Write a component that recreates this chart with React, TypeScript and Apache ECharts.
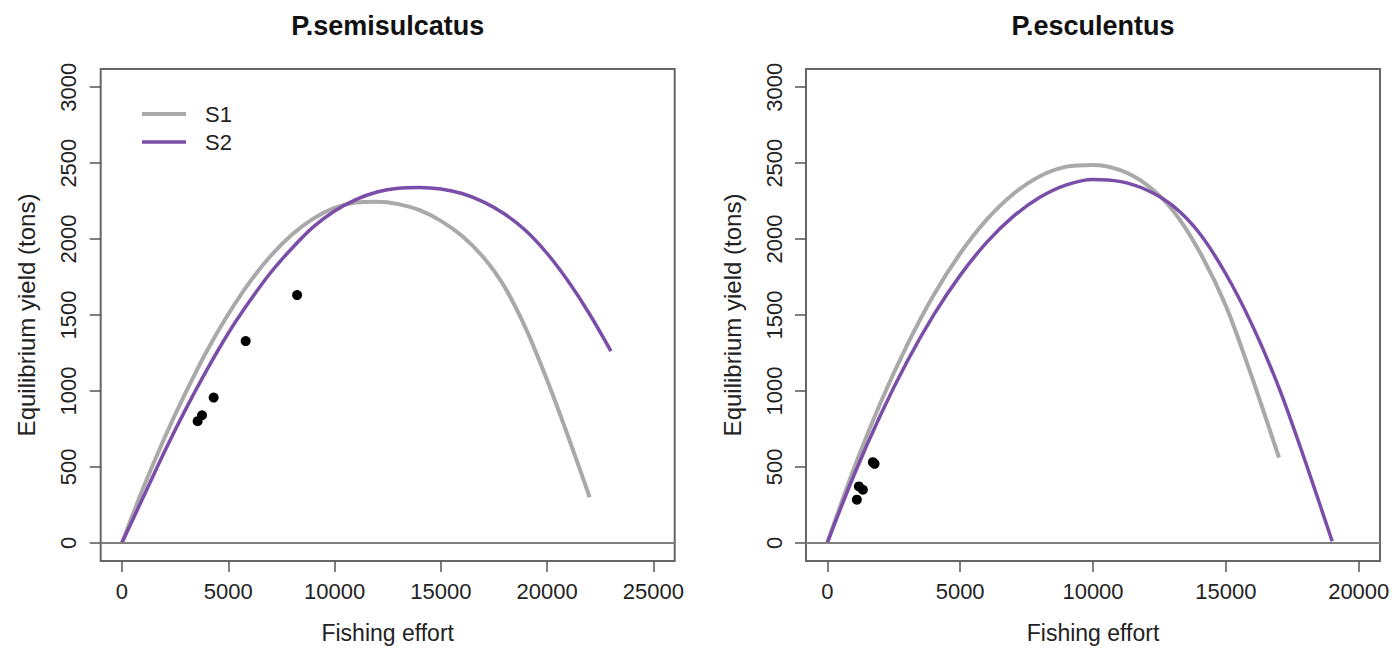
import React, { useEffect, useRef } from "react";
import * as echarts from "echarts";

// ---- data ----
const leftEffort = [0, 1000, 2000, 3000, 4000, 5000, 6000, 7000, 8000, 9000, 10000, 11000, 12000, 13000, 14000, 15000, 16000, 17000, 18000, 19000, 20000, 21000, 22000, 23000];
const leftS1 = [0, 360, 690, 990, 1265, 1505, 1715, 1890, 2030, 2135, 2205, 2240, 2245, 2230, 2190, 2120, 2020, 1880, 1685, 1410, 1070, 695, 300];
const leftS2 = [0, 300, 600, 880, 1140, 1380, 1590, 1780, 1940, 2080, 2185, 2260, 2310, 2335, 2340, 2330, 2300, 2245, 2165, 2055, 1905, 1720, 1505, 1262];
const rightEffort = [0, 1000, 2000, 3000, 4000, 5000, 6000, 7000, 8000, 9000, 10000, 11000, 12000, 13000, 14000, 15000, 16000, 17000, 18000, 19000];
const rightS1 = [0, 487, 921, 1300, 1630, 1905, 2128, 2297, 2414, 2477, 2488, 2455, 2360, 2190, 1920, 1560, 1080, 560];
const rightS2 = [0, 443, 840, 1192, 1499, 1761, 1978, 2149, 2275, 2357, 2393, 2380, 2325, 2220, 2040, 1770, 1430, 1020, 530, 10];
const leftObsEffort = [3560, 3766, 4313, 5819, 8239];
const leftObsYield = [801, 840, 956, 1328, 1631];
const rightObsEffort = [1114, 1190, 1340, 1716, 1780];
const rightObsYield = [284, 371, 349, 531, 520];
const yTicks = [0, 500, 1000, 1500, 2000, 2500, 3000];
const leftXTicks = [0, 5000, 10000, 15000, 20000, 25000];
const rightXTicks = [0, 5000, 10000, 15000, 20000];
const panelTitles = ["P.semisulcatus", "P.esculentus"];
const seriesNames = ["S1", "S2"];
const xName = "Fishing effort";
const yName = "Equilibrium yield (tons)";

const FONT = "'Liberation Sans', Arial, Helvetica, sans-serif";
const GRAY = "#a9a9a9";
const PURPLE = "#7a4ea8";

const zip = (xs: number[], ys: number[]) => ys.map((y, i) => [xs[i], y]);

export default function App() {
  const ref = useRef<HTMLDivElement>(null);
  useEffect(() => {
    if (!ref.current) return;
    const chart = echarts.init(ref.current, undefined, { renderer: "svg" });
    const grids = [
      { left: 100.7, top: 69, width: 574, height: 494 },
      { left: 806, top: 69, width: 574, height: 494 },
    ];
    const xRanges = [
      { min: -1000, max: 26000, ticks: leftXTicks },
      { min: -800, max: 20800, ticks: rightXTicks },
    ];
    const fmt = (v: number) => String(v);
    const xAxis = xRanges.map((r, i) => ({
      gridIndex: i,
      type: "value",
      min: r.min,
      max: r.max,
      axisLine: { show: false, onZero: false },
      axisTick: { show: true, length: 11, lineStyle: { color: "#555", width: 1.5 }, customValues: r.ticks },
      axisLabel: { customValues: r.ticks, formatter: fmt, margin: 19, fontSize: 22, color: "#222", fontFamily: FONT },
      splitLine: { show: false },
      name: xName,
      nameLocation: "middle",
      nameGap: 60,
      nameTextStyle: { fontSize: 23, color: "#222", fontFamily: FONT },
    }));
    const yAxis = [0, 1].map((i) => ({
      gridIndex: i,
      type: "value",
      min: -120,
      max: 3120,
      axisLine: { show: false, onZero: false },
      axisTick: { show: true, length: 11, lineStyle: { color: "#555", width: 1.5 }, customValues: yTicks },
      axisLabel: { customValues: yTicks, formatter: fmt, rotate: 90, margin: 21, fontSize: 22, color: "#222", fontFamily: FONT },
      splitLine: { show: false },
      name: yName,
      nameLocation: "middle",
      nameGap: 62,
      nameTextStyle: { fontSize: 24, color: "#222", fontFamily: FONT },
    }));
    const zeroLine = {
      silent: true,
      symbol: "none",
      label: { show: false },
      lineStyle: { color: "#808080", width: 2, type: "solid" },
      data: [{ yAxis: 0 }],
    };
    const panels = [
      { s1: zip(leftEffort, leftS1), s2: zip(leftEffort, leftS2), obs: zip(leftObsEffort, leftObsYield) },
      { s1: zip(rightEffort, rightS1), s2: zip(rightEffort, rightS2), obs: zip(rightObsEffort, rightObsYield) },
    ];
    const series: any[] = [];
    panels.forEach((p, i) => {
      series.push({
        type: "line", name: seriesNames[0], xAxisIndex: i, yAxisIndex: i, data: p.s1,
        symbol: "none", smooth: 0.3, lineStyle: { color: GRAY, width: 4 }, itemStyle: { color: GRAY },
        markLine: zeroLine, z: 2,
      });
      series.push({
        type: "line", name: seriesNames[1], xAxisIndex: i, yAxisIndex: i, data: p.s2,
        symbol: "none", smooth: 0.3, lineStyle: { color: PURPLE, width: 3.5 }, itemStyle: { color: PURPLE }, z: 3,
      });
      series.push({
        type: "scatter", name: "Observed", xAxisIndex: i, yAxisIndex: i, data: p.obs,
        symbol: "circle", symbolSize: 10, itemStyle: { color: "#000", opacity: 1 }, z: 4,
      });
    });
    const titleCenters = [grids[0].left + grids[0].width / 2, grids[1].left + grids[1].width / 2];
    const graphic: any[] = panelTitles.map((t, i) => ({
      type: "text",
      x: titleCenters[i],
      y: 26,
      style: { text: t, font: `bold 27px ${FONT}`, fill: "#111", align: "center", verticalAlign: "middle" },
    }));
    const legendColors = [GRAY, PURPLE];
    seriesNames.forEach((n, k) => {
      const y = 114 + k * 28;
      graphic.push({ type: "line", shape: { x1: 142, y1: y, x2: 186, y2: y }, style: { stroke: legendColors[k], lineWidth: k === 0 ? 4 : 3.5 } });
      graphic.push({ type: "text", x: 205, y, style: { text: n, font: `22px ${FONT}`, fill: "#222", align: "left", verticalAlign: "middle" } });
    });
    chart.setOption({
      animation: false,
      backgroundColor: "#fff",
      grid: grids.map((g) => ({ ...g, show: true, borderColor: "#666", borderWidth: 2, backgroundColor: "transparent" })),
      xAxis,
      yAxis,
      series,
      graphic,
    });
    return () => chart.dispose();
  }, []);
  return <div ref={ref} style={{ position: "fixed", left: 0, top: 0, width: 1394, height: 649 }} />;
}
